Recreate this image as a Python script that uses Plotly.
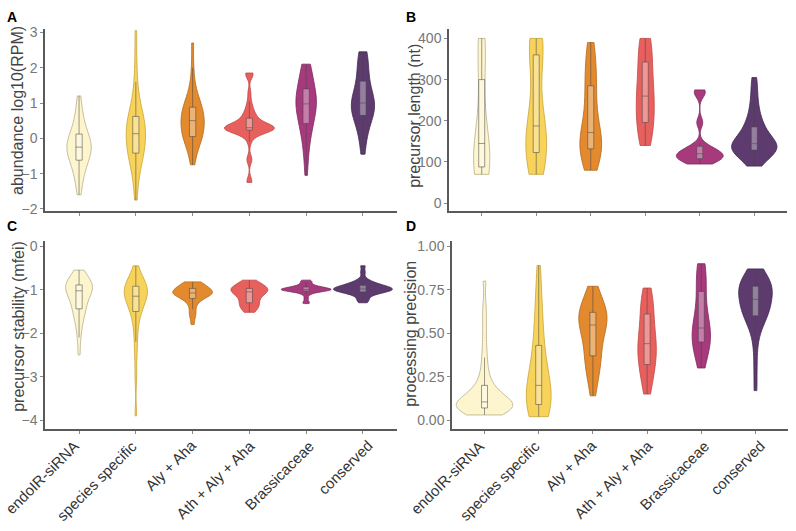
import plotly.graph_objects as go

categories = ["endoIR-siRNA", "species specific", "Aly + Aha", "Ath + Aly + Aha", "Brassicaceae", "conserved"]

# Panel A: abundance log10(RPM) (estimated samples per category)
abundance = [
    [-1.6, -1.35, -1.15, -1.0, -0.9, -0.8, -0.7, -0.62, -0.58, -0.52, -0.45, -0.4, -0.35, -0.3, -0.27,
     -0.23, -0.2, -0.15, -0.1, -0.05, 0.0, 0.06, 0.12, 0.2, 0.3, 0.42, 0.55, 0.7, 0.9, 1.2],
    [-1.75, -1.3, -1.0, -0.8, -0.65, -0.55, -0.48, -0.42, -0.38, -0.3, -0.2, -0.1, -0.02, 0.05, 0.1,
     0.16, 0.22, 0.28, 0.35, 0.42, 0.5, 0.55, 0.62, 0.72, 0.85, 1.0, 1.25, 1.6, 2.2, 3.05],
    [-0.75, -0.5, -0.3, -0.15, -0.05, 0.0, 0.03, 0.05, 0.1, 0.18, 0.25, 0.3, 0.36, 0.42, 0.48,
     0.52, 0.58, 0.63, 0.68, 0.74, 0.8, 0.84, 0.88, 0.95, 1.05, 1.15, 1.3, 1.5, 2.0, 2.7],
    [-1.25, -1.2, -0.62, -0.58, -0.1, 0.05, 0.12, 0.17, 0.2, 0.22, 0.24, 0.25, 0.25, 0.26, 0.27,
     0.27, 0.28, 0.28, 0.29, 0.29, 0.3, 0.31, 0.32, 0.33, 0.35, 0.37, 0.4, 0.44, 0.48, 0.52,
     0.56, 0.6, 0.66, 0.72, 0.8, 0.9, 1.05, 1.3, 1.78, 1.82, 1.85],
    [-1.05, -0.6, -0.3, -0.1, 0.1, 0.25, 0.35, 0.42, 0.5, 0.6, 0.7, 0.78, 0.85, 0.9, 0.95,
     1.0, 1.05, 1.1, 1.15, 1.22, 1.28, 1.33, 1.4, 1.5, 1.6, 1.75, 1.88, 1.97, 2.05, 2.1],
    [-0.45, -0.2, 0.05, 0.25, 0.4, 0.5, 0.6, 0.65, 0.7, 0.78, 0.85, 0.9, 0.94, 0.97, 0.99,
     1.01, 1.04, 1.08, 1.15, 1.25, 1.4, 1.55, 1.62, 1.75, 1.9, 2.05, 2.2, 2.32, 2.4, 2.45],
]

# Panel B: precursor length (nt)
length = [
    [70, 72, 75, 78, 80, 83, 86, 88, 90, 95, 100, 108, 118, 130, 140, 150, 160, 172, 185, 200,
     240, 290, 300, 330, 360, 385, 395, 398, 400, 400],
    [70, 75, 82, 90, 100, 110, 118, 123, 130, 140, 150, 160, 170, 180, 185, 190, 200, 215, 240, 270,
     320, 352, 360, 375, 385, 392, 396, 398, 400, 400],
    [80, 95, 108, 118, 125, 128, 130, 132, 135, 138, 142, 146, 152, 158, 165, 178, 190, 205, 225, 245,
     262, 272, 285, 300, 315, 330, 345, 360, 375, 390],
    [140, 150, 160, 172, 185, 192, 200, 215, 230, 242, 252, 258, 262, 275, 290, 305, 320, 335, 350, 365,
     380, 392, 398, 400],
    [95, 97, 100, 102, 104, 106, 107, 108, 110, 112, 114, 116, 117, 118, 119, 121, 123, 125, 127, 129,
     132, 134, 138, 145, 195, 197, 262, 268, 272, 275],
    [90, 100, 108, 115, 120, 124, 127, 129, 131, 133, 135, 137, 139, 141, 143, 146, 150, 155, 160, 167,
     175, 179, 185, 195, 205, 218, 235, 255, 280, 305],
]

# Panel C: precursor stability (mfei)
stability = [
    [-2.5, -2.1, -1.9, -1.75, -1.62, -1.55, -1.48, -1.44, -1.4, -1.33, -1.25, -1.18, -1.12, -1.07, -1.04,
     -1.01, -0.98, -0.96, -0.94, -0.92, -0.91, -0.9, -0.89, -0.87, -0.85, -0.82, -0.78, -0.72, -0.65, -0.55],
    [-3.9, -3.0, -2.5, -2.2, -1.95, -1.75, -1.6, -1.5, -1.45, -1.38, -1.32, -1.27, -1.22, -1.19, -1.16,
     -1.14, -1.1, -1.06, -1.02, -0.99, -0.96, -0.94, -0.92, -0.9, -0.88, -0.85, -0.8, -0.72, -0.6, -0.45],
    [-1.8, -1.62, -1.55, -1.45, -1.35, -1.28, -1.23, -1.2, -1.17, -1.15, -1.13, -1.11, -1.1, -1.09, -1.08,
     -1.07, -1.06, -1.05, -1.04, -1.03, -1.01, -0.99, -0.97, -0.95, -0.93, -0.9, -0.88, -0.86, -0.84, -0.82],
    [-1.52, -1.48, -1.44, -1.4, -1.37, -1.34, -1.32, -1.3, -1.27, -1.22, -1.17, -1.12, -1.09, -1.07, -1.06,
     -1.04, -1.03, -1.02, -1.01, -1.0, -0.99, -0.98, -0.97, -0.95, -0.93, -0.91, -0.89, -0.86, -0.82, -0.78],
    [-1.32, -1.28, -1.2, -1.12, -1.08, -1.06, -1.04, -1.03, -1.02, -1.02, -1.01, -1.01, -1.0, -1.0, -1.0,
     -0.99, -0.99, -0.98, -0.97, -0.96, -0.95, -0.95, -0.94, -0.93, -0.91, -0.89, -0.86, -0.83, -0.8, -0.78],
    [-1.3, -1.25, -1.2, -1.15, -1.1, -1.08, -1.06, -1.05, -1.04, -1.03, -1.02, -1.01, -1.0, -0.99, -0.985,
     -0.98, -0.97, -0.96, -0.95, -0.94, -0.93, -0.91, -0.9, -0.88, -0.86, -0.84, -0.81, -0.75, -0.6, -0.45],
]

# Panel D: processing precision
precision = [
    [0.03, 0.04, 0.05, 0.05, 0.06, 0.06, 0.06, 0.07, 0.07, 0.07, 0.07, 0.08, 0.08, 0.08, 0.09, 0.09,
     0.09, 0.1, 0.1, 0.1, 0.11, 0.11, 0.12, 0.13, 0.14, 0.15, 0.16, 0.17, 0.18, 0.19, 0.21, 0.24,
     0.27, 0.31, 0.36, 0.42, 0.5, 0.58, 0.66, 0.8],
    [0.02, 0.03, 0.04, 0.05, 0.06, 0.07, 0.08, 0.09, 0.1, 0.11, 0.13, 0.15, 0.16, 0.18, 0.19,
     0.21, 0.23, 0.25, 0.28, 0.31, 0.35, 0.39, 0.43, 0.47, 0.52, 0.58, 0.64, 0.7, 0.79, 0.89],
    [0.14, 0.2, 0.25, 0.28, 0.31, 0.33, 0.35, 0.37, 0.39, 0.42, 0.45, 0.48, 0.5, 0.52, 0.54,
     0.555, 0.565, 0.575, 0.585, 0.59, 0.6, 0.61, 0.62, 0.63, 0.64, 0.66, 0.68, 0.7, 0.74, 0.77],
    [0.15, 0.18, 0.21, 0.24, 0.27, 0.29, 0.31, 0.32, 0.34, 0.36, 0.38, 0.4, 0.41, 0.42, 0.43,
     0.45, 0.46, 0.48, 0.5, 0.52, 0.55, 0.58, 0.61, 0.63, 0.65, 0.67, 0.69, 0.71, 0.74, 0.76],
    [0.3, 0.33, 0.36, 0.39, 0.41, 0.43, 0.44, 0.45, 0.46, 0.47, 0.48, 0.49, 0.5, 0.51, 0.52,
     0.54, 0.56, 0.58, 0.6, 0.63, 0.66, 0.7, 0.74, 0.77, 0.8, 0.83, 0.85, 0.87, 0.89, 0.9],
    [0.17, 0.3, 0.42, 0.5, 0.54, 0.57, 0.59, 0.6, 0.61, 0.63, 0.64, 0.65, 0.66, 0.67, 0.68,
     0.71, 0.72, 0.73, 0.74, 0.75, 0.76, 0.77, 0.77, 0.78, 0.79, 0.8, 0.82, 0.84, 0.86, 0.87],
]

# ---- styles ----
fills = ["#FDF5CD", "#F8D35B", "#E28A2D", "#E8605D", "#A63A7D", "#5D3B6E"]
outlines = ["#B8AF8C", "#C9A536", "#B56A1C", "#C04847", "#7E2A5E", "#432A52"]

W, H = 796, 531
FONT = "Liberation Sans, Arial, sans-serif"


def dom_x(a, b):
    return [a / W, b / W]


def dom_y(top, bot):
    return [1 - bot / H, 1 - top / H]


panels = [
    dict(vals=abundance, n="", xdom=dom_x(45, 397), ydom=dom_y(25, 211), yr=[-2.06, 3.11], dtick=1,
         fmt="", title="abundance log10(RPM)", tx=18, ty=109, widths=[0.43, 0.34, 0.41, 0.88, 0.36, 0.41],
         labels=False, letter="A", lx=12, ly=13),
    dict(vals=length, n="2", xdom=dom_x(449, 787), ydom=dom_y(25, 211), yr=[-19, 424], dtick=100,
         fmt="", title="precursor length (nt)", tx=415, ty=114, widths=[0.3, 0.38, 0.4, 0.33, 0.86, 0.83],
         labels=False, letter="B", lx=411, ly=13),
    dict(vals=stability, n="3", xdom=dom_x(45, 397), ydom=dom_y(242, 433), yr=[-4.2, 0.11], dtick=1,
         fmt="", title="precursor stability (mfei)", tx=19, ty=329, widths=[0.47, 0.41, 0.7, 0.65, 0.88, 1.04],
         labels=True, letter="C", lx=12, ly=226),
    dict(vals=precision, n="4", xdom=dom_x(452, 788), ydom=dom_y(242, 433), yr=[-0.05, 1.028], dtick=0.25,
         fmt=".2f", title="processing precision", tx=411, ty=336, widths=[1.04, 0.46, 0.52, 0.34, 0.34, 0.62],
         labels=True, letter="D", lx=411, ly=226),
]

fig = go.Figure()
layout = dict(
    width=W, height=H, margin=dict(l=0, r=0, t=0, b=0),
    paper_bgcolor="white", plot_bgcolor="white",
    font=dict(family=FONT, color="#444"),
    showlegend=False, violinmode="overlay",
)
annotations = []

for p in panels:
    xa = "x" + p["n"]
    ya = "y" + p["n"]
    for i, cat in enumerate(categories):
        v = p["vals"][i]
        w = p["widths"][i]
        fig.add_trace(go.Violin(
            x=[cat] * len(v), y=v, xaxis=xa, yaxis=ya,
            fillcolor=fills[i], line=dict(color=outlines[i], width=0.8),
            width=w, scalemode="width", spanmode="hard", points=False,
            box=dict(visible=True, width=min(1.0, 0.11 / w), fillcolor="rgba(255,255,255,0.35)",
                     line=dict(color="rgba(70,70,70,0.6)", width=0.9)),
            meanline=dict(visible=False), opacity=1, hoverinfo="y", name=cat,
        ))
    layout["xaxis" + p["n"]] = dict(
        domain=p["xdom"], anchor=ya, type="category", categoryorder="array", categoryarray=categories,
        range=[-0.6, 5.6], showline=True, linecolor="#5a5a5a", linewidth=1.5, ticks="outside",
        ticklen=3, tickcolor="#8a8a8a", tickwidth=1, showgrid=False, zeroline=False,
        showticklabels=False,
    )
    yax = dict(
        domain=p["ydom"], anchor=xa, range=p["yr"], dtick=p["dtick"], tick0=0, showline=True,
        linecolor="#5a5a5a", linewidth=1.5, ticks="outside", ticklen=3, tickcolor="#8a8a8a",
        showgrid=False, zeroline=False, tickfont=dict(size=14, color="#777", family=FONT),
    )
    if p["fmt"]:
        yax["tickformat"] = p["fmt"]
    layout["yaxis" + p["n"]] = yax
    # y-axis title
    annotations.append(dict(
        text=p["title"], x=p["tx"] / W, y=1 - p["ty"] / H, xref="paper", yref="paper",
        xanchor="center", yanchor="middle", textangle=-90, showarrow=False,
        font=dict(size=16, color="#444", family=FONT),
    ))
    # panel letter
    annotations.append(dict(
        text="<b>" + p["letter"] + "</b>", x=p["lx"] / W, y=1 - p["ly"] / H, xref="paper", yref="paper",
        xanchor="center", yanchor="middle", showarrow=False, font=dict(size=14, color="black", family=FONT),
    ))
    if p["labels"]:
        for i, cat in enumerate(categories):
            annotations.append(dict(
                text=cat, x=i, xref=xa, y=p["ydom"][0], yref="paper", yshift=-7, xshift=4 + 2 * i,
                xanchor="right", yanchor="top", textangle=-45, showarrow=False, borderpad=0,
                font=dict(size=15, color="#333", family=FONT),
            ))

layout["annotations"] = annotations
fig.update_layout(**layout)
fig.write_html("out.html")
